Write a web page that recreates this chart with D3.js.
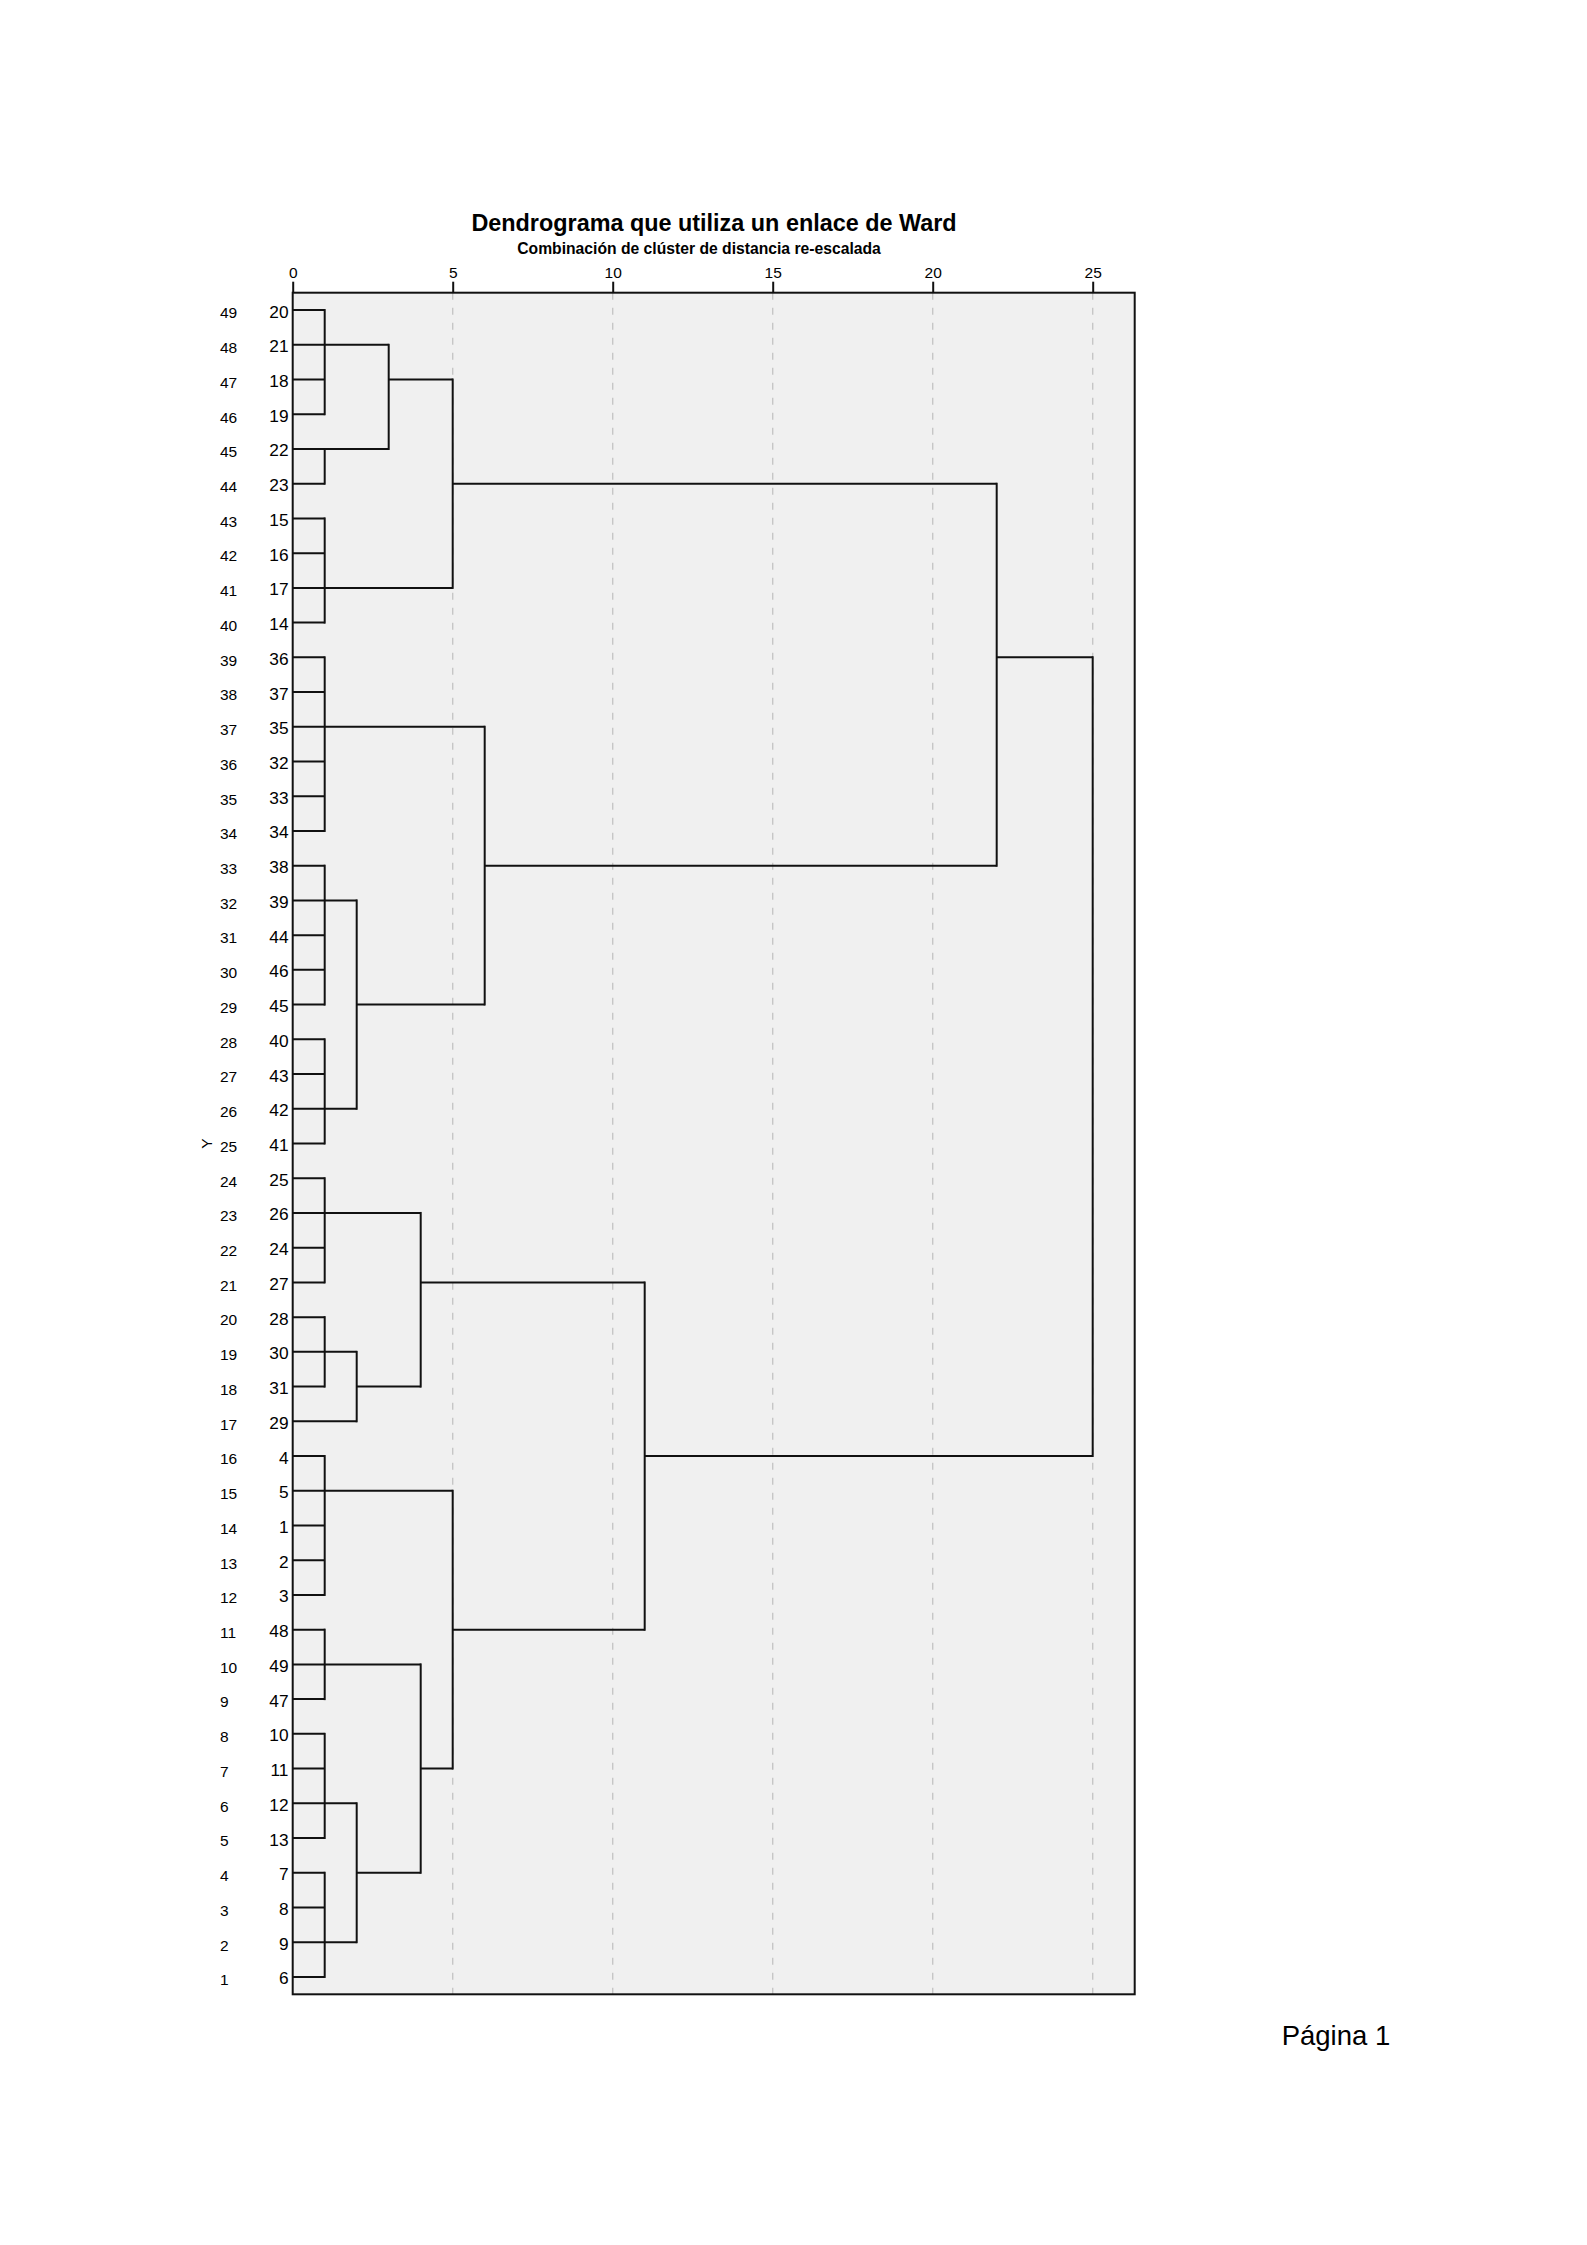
<!DOCTYPE html>
<html>
<head>
<meta charset="utf-8">
<script src="https://cdn.jsdelivr.net/npm/d3@7"></script>
<style>
  html, body { margin: 0; padding: 0; background: #fff; }
  svg { display: block; }
  text { font-family: "Liberation Sans", Arial, Helvetica, sans-serif; fill: #000; }
</style>
</head>
<body>
<svg id="chart" width="1587" height="2245"></svg>
<script>
// ---------------- DATA ----------------
// Leaf (case) labels in dendrogram order, top to bottom
const leaves = [20,21,18,19,22,23,15,16,17,14,36,37,35,32,33,34,38,39,44,46,45,40,43,42,41,
                25,26,24,27,28,30,31,29,4,5,1,2,3,48,49,47,10,11,12,13,7,8,9,6];
// Row numbers shown at far left, top to bottom
const rowLabels = [49,48,47,46,45,44,43,42,41,40,39,38,37,36,35,34,33,32,31,30,29,28,27,26,25,
                   24,23,22,21,20,19,18,17,16,15,14,13,12,11,10,9,8,7,6,5,4,3,2,1];
// Axis ticks (rescaled distance)
const tickValues = [0,5,10,15,20,25];
const gridValues = [5,10,15,20,25];

// Clusters: id, rescaled merge distance, members (leaf numbers or cluster ids), leaf row of outgoing link
const clusterIds      = ["A1","A2","A3","A4","A5","B1","B2","B3","B4","B5","AB",
                         "C1","C2","C3","C4","D1","D2","D3","D4","D5","D6","D7","CD","ROOT"];
const clusterDist     = [1,1,3,1,5,1,1,1,2,6,22,
                         1,1,2,4,1,1,1,1,2,4,5,11,25];
const clusterChildren = [[20,21,18,19],[22,23],["A1","A2"],[15,16,17,14],["A3","A4"],
                         [36,37,35,32,33,34],[38,39,44,46,45],[40,43,42,41],["B2","B3"],["B1","B4"],["A5","B5"],
                         [25,26,24,27],[28,30,31],["C2",29],["C1","C3"],
                         [4,5,1,2,3],[48,49,47],[10,11,12,13],[7,8,9,6],["D3","D4"],["D2","D5"],["D1","D6"],
                         ["C4","D7"],["AB","CD"]];
const clusterLinkLeaf = [21,22,18,17,23,35,39,42,45,38,36,
                         26,30,31,27,5,49,12,9,7,11,48,4,null];

const title = "Dendrograma que utiliza un enlace de Ward";
const subtitle = "Combinación de clúster de distancia re-escalada";
const yTitle = "Y";
const pageLabel = "Página 1";

// ---------------- LAYOUT ----------------
const plotLeft = 292.7, plotTop = 292.7, plotBottom = 1994.3, plotRight = 1134.7;

const svg = d3.select("#chart");
const x = d3.scaleLinear().domain([0, 25]).range([plotLeft, plotLeft + 800]);
const y = d3.scaleBand().domain(leaves).range([plotTop, plotBottom]).padding(0);
const yc = l => y(l) + y.bandwidth() / 2;

// plot background
svg.append("rect")
  .attr("x", plotLeft).attr("y", plotTop)
  .attr("width", plotRight - plotLeft).attr("height", plotBottom - plotTop)
  .attr("fill", "#f0f0f0");

// grid lines
svg.append("g").selectAll("line").data(gridValues).join("line")
  .attr("x1", d => x(d)).attr("x2", d => x(d))
  .attr("y1", plotTop).attr("y2", plotBottom)
  .attr("stroke", "#c6c6c6").attr("stroke-width", 1.4)
  .attr("stroke-dasharray", "7,8");

// dendrogram
const cmap = new Map();
clusterIds.forEach((id, i) => cmap.set(id, {d: clusterDist[i], link: clusterLinkLeaf[i]}));
const childRow = c => (typeof c === "number") ? c : cmap.get(c).link;
const childX = c => (typeof c === "number") ? 0 : cmap.get(c).d;

const gD = svg.append("g").attr("stroke", "#111").attr("stroke-width", 2).attr("fill", "none");
clusterIds.forEach((id, i) => {
  const d = clusterDist[i];
  const kids = clusterChildren[i];
  const ys = kids.map(k => yc(childRow(k)));
  gD.selectAll(null).data(kids).join("line")
    .attr("x1", k => x(childX(k))).attr("x2", x(d))
    .attr("y1", k => yc(childRow(k))).attr("y2", k => yc(childRow(k)));
  gD.append("line")
    .attr("x1", x(d)).attr("x2", x(d))
    .attr("y1", d3.min(ys)).attr("y2", d3.max(ys))
    .attr("stroke-linecap", "square");
});

// frame
svg.append("rect")
  .attr("x", plotLeft).attr("y", plotTop)
  .attr("width", plotRight - plotLeft).attr("height", plotBottom - plotTop)
  .attr("fill", "none").attr("stroke", "#111").attr("stroke-width", 2);

// top axis
const axis = d3.axisTop(x).tickValues(tickValues).tickSize(11).tickPadding(4).tickFormat(d3.format("d"));
const gA = svg.append("g").attr("transform", `translate(0,${plotTop})`).call(axis);
gA.select(".domain").remove();
gA.selectAll(".tick line").attr("stroke", "#111").attr("stroke-width", 2);
gA.selectAll(".tick text").attr("font-size", "15.5px").attr("fill", "#000")
  .style("font-family", '"Liberation Sans", Arial, sans-serif');

// leaf labels
svg.append("g").selectAll("text").data(leaves).join("text")
  .attr("x", 288.5).attr("y", d => yc(d) + 7.5)
  .attr("text-anchor", "end").attr("font-size", "17.3px")
  .text(d => d);

// row numbers
svg.append("g").selectAll("text").data(rowLabels).join("text")
  .attr("x", 220).attr("y", (d, i) => yc(leaves[i]) + 8.3)
  .attr("text-anchor", "start").attr("font-size", "15.5px")
  .text(d => d);

// Y axis title (row 25)
svg.append("text")
  .attr("transform", `translate(211.5,${yc(leaves[rowLabels.indexOf(25)])}) rotate(-90)`)
  .attr("text-anchor", "middle").attr("font-size", "15.5px")
  .text(yTitle);

// titles
svg.append("text")
  .attr("x", 714).attr("y", 231)
  .attr("text-anchor", "middle").attr("font-size", "23.4px").attr("font-weight", "bold")
  .text(title);
svg.append("text")
  .attr("x", 699).attr("y", 254.3)
  .attr("text-anchor", "middle").attr("font-size", "15.7px").attr("font-weight", "bold")
  .text(subtitle);

// page label
svg.append("text")
  .attr("x", 1281.7).attr("y", 2045)
  .attr("text-anchor", "start").attr("font-size", "27.5px")
  .text(pageLabel);
</script>
</body>
</html>
